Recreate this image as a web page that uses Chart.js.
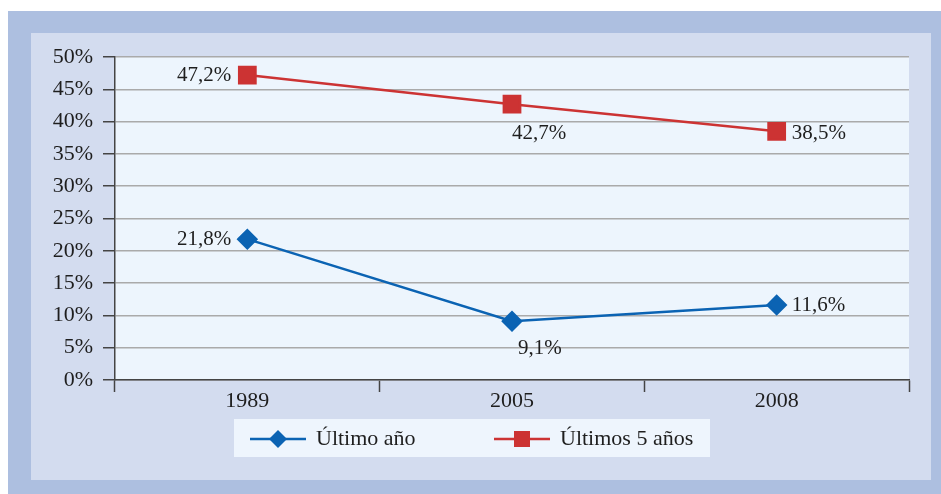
<!DOCTYPE html>
<html>
<head>
<meta charset="utf-8">
<script src="https://cdn.jsdelivr.net/npm/chart.js@4.4.0/dist/chart.umd.min.js"></script>
<style>
  html, body { margin: 0; padding: 0; background: #ffffff; }
  #wrap { width: 941px; height: 494px; }
</style>
</head>
<body>
<div id="wrap"><canvas id="lineChart" width="941" height="494"></canvas></div>
<script>
const years = ['1989', '2005', '2008'];
const lastYear = [21.8, 9.1, 11.6];
const lastFiveYears = [47.2, 42.7, 38.5];
const seriesNames = ['Último año', 'Últimos 5 años'];

const serif = "'Liberation Serif', 'DejaVu Serif', serif";

// where each value label sits relative to its point: [dx, dy, align]
const labelSpots = [
    [[-16, 0, 'right'], [6, 27, 'left'], [15, 0, 'left']],
    [[-16, 0, 'right'], [0, 29, 'left'], [15, 2, 'left']]
];

function fmt(v) {
    return v.toFixed(1).replace('.', ',') + '%';
}

const panelBg = {
    id: 'panelBg',
    beforeDraw(chart) {
        const ctx = chart.ctx;
        const a = chart.chartArea;
        ctx.save();
        ctx.fillStyle = '#ffffff';
        ctx.fillRect(0, 0, chart.width, chart.height);
        ctx.fillStyle = '#adbfe0';
        ctx.fillRect(8, 11, chart.width - 8, chart.height - 11);
        ctx.fillStyle = '#d3dcef';
        ctx.fillRect(31, 33, 900, 447);
        ctx.fillStyle = '#edf5fd';
        ctx.fillRect(a.left, a.top, a.right - a.left, a.bottom - a.top);
        ctx.restore();
    }
};

const valueLabels = {
    id: 'valueLabels',
    afterDatasetsDraw(chart) {
        const ctx = chart.ctx;
        ctx.save();
        ctx.fillStyle = '#1e1e1e';
        ctx.textBaseline = 'middle';
        chart.data.datasets.forEach((ds, i) => {
            chart.getDatasetMeta(i).data.forEach((pt, j) => {
                const s = labelSpots[i][j];
                ctx.font = '21px ' + serif;
                ctx.textAlign = s[2];
                ctx.fillText(fmt(ds.data[j]), pt.x + s[0], pt.y + s[1]);
            });
        });
        ctx.restore();
    }
};

const boxLegend = {
    id: 'boxLegend',
    afterDraw(chart) {
        const ctx = chart.ctx;
        ctx.save();
        ctx.fillStyle = '#eef5fd';
        ctx.fillRect(234, 419, 476, 38);
        const cy = 439;
        const starts = [250, 494];
        chart.data.datasets.forEach((ds, i) => {
            const x0 = starts[i];
            ctx.strokeStyle = ds.borderColor;
            ctx.lineWidth = 2.5;
            ctx.beginPath();
            ctx.moveTo(x0, cy);
            ctx.lineTo(x0 + 56, cy);
            ctx.stroke();
            ctx.fillStyle = ds.backgroundColor;
            const mx = x0 + 28;
            if (ds.pointStyle === 'rectRot') {
                ctx.beginPath();
                ctx.moveTo(mx, cy - 9);
                ctx.lineTo(mx + 9, cy);
                ctx.lineTo(mx, cy + 9);
                ctx.lineTo(mx - 9, cy);
                ctx.closePath();
                ctx.fill();
            } else {
                ctx.fillRect(mx - 8, cy - 8, 16, 16);
            }
            ctx.fillStyle = '#1e1e1e';
            ctx.font = '22px ' + serif;
            ctx.textAlign = 'left';
            ctx.textBaseline = 'middle';
            ctx.fillText(ds.label, x0 + 66, cy);
        });
        ctx.restore();
    }
};

new Chart(document.getElementById('lineChart'), {
    type: 'line',
    data: {
        labels: years,
        datasets: [
            {
                label: seriesNames[0],
                data: lastYear,
                borderColor: '#0b63b3',
                backgroundColor: '#0b63b3',
                borderWidth: 2.5,
                pointStyle: 'rectRot',
                pointRadius: 9,
                pointHoverRadius: 9,
                tension: 0
            },
            {
                label: seriesNames[1],
                data: lastFiveYears,
                borderColor: '#cc3333',
                backgroundColor: '#cc3333',
                borderWidth: 2.5,
                pointStyle: 'rect',
                pointRadius: 11.5,
                pointHoverRadius: 11.5,
                tension: 0
            }
        ]
    },
    options: {
        responsive: false,
        animation: false,
        layout: { padding: { top: 57, right: 32, bottom: 0, left: 0 } },
        plugins: {
            legend: { display: false },
            tooltip: { enabled: false }
        },
        scales: {
            x: {
                offset: true,
                grid: {
                    offset: true,
                    drawOnChartArea: false,
                    tickLength: 12,
                    tickColor: '#444444',
                    tickWidth: 1.5
                },
                border: { color: '#444444', width: 1.5 },
                ticks: {
                    color: '#1e1e1e',
                    font: { family: serif, size: 22 },
                    padding: -4
                },
                afterFit(scale) { scale.height = 114; }
            },
            y: {
                min: 0,
                max: 50,
                grid: {
                    color: '#aaaaaa',
                    lineWidth: 1.5,
                    tickLength: 12,
                    tickColor: '#444444',
                    tickWidth: 1.5
                },
                border: { color: '#444444', width: 1.5 },
                ticks: {
                    stepSize: 5,
                    color: '#1e1e1e',
                    font: { family: serif, size: 22 },
                    padding: 10,
                    callback: v => v + '%'
                },
                afterFit(scale) { scale.width = 115; }
            }
        }
    },
    plugins: [panelBg, valueLabels, boxLegend]
});
</script>
</body>
</html>
